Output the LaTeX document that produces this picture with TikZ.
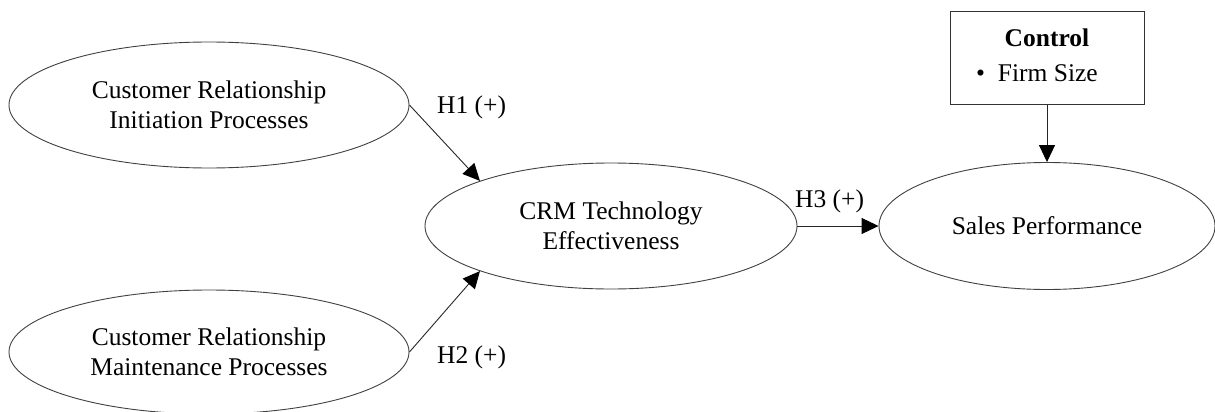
\documentclass[tikz,border=0pt]{standalone}
\usepackage{fontspec}
\setmainfont{Liberation Serif}
\usetikzlibrary{shapes.geometric,arrows.meta}
\begin{document}
\begin{tikzpicture}[x=1pt,y=-1pt,
  font=\fontsize{25.5}{30}\selectfont,
  construct/.style={draw=black!75, line width=0.9pt, ellipse, inner sep=0pt, align=center},
  ctrlbox/.style={draw=black!80, line width=0.9pt, rectangle, inner sep=0pt, minimum width=194pt, minimum height=93pt},
  link/.style={draw=black!85, line width=0.9pt, -{Triangle[length=17pt,width=16pt,fill=black,color=black]}},
  hyp/.style={anchor=base west, inner sep=0pt}]
\useasboundingbox (0,0) rectangle (1215,412);
\node[construct, minimum width=400pt, minimum height=126pt] (cri) at (209,105) {Customer Relationship\\Initiation Processes};
\node[construct, minimum width=400pt, minimum height=124pt] (crm) at (209,352) {Customer Relationship\\Maintenance Processes};
\node[construct, minimum width=372pt, minimum height=126pt] (tech) at (611,226) {CRM Technology\\Effectiveness};
\node[construct, minimum width=336pt, minimum height=127pt] (sales) at (1047,226) {Sales Performance};
\node[ctrlbox] (ctrl) at (1047,58) {\begin{tabular}{@{}p{142pt}@{}}\multicolumn{1}{@{}c@{}}{\textbf{Control}}\\[5pt]\textbullet\hspace{13pt}Firm Size\end{tabular}};
\draw[link] (cri.east) -- (tech.161);
\draw[link] (crm.east) -- (tech.199);
\draw[link] (tech.east) -- (sales.west);
\draw[link] (ctrl.south) -- (sales.north);
\node[hyp] (h1) at (437,113) {H1 (+)};
\node[hyp] (h2) at (437,363) {H2 (+)};
\node[hyp] (h3) at (795,207) {H3 (+)};
\end{tikzpicture}
\end{document}
